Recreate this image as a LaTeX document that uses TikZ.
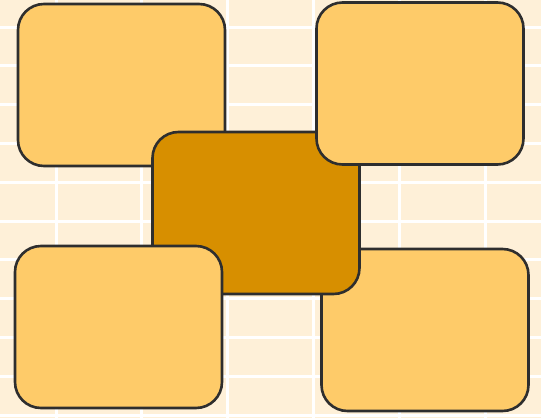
\documentclass[tikz,border=0pt]{standalone}
\usepackage{tikz}
\usetikzlibrary{positioning}

\definecolor{paper}{HTML}{FEF0D8}
\definecolor{tilelight}{HTML}{FECB69}
\definecolor{tiledark}{HTML}{D78F00}
\definecolor{edge}{HTML}{2E2E2E}

\tikzset{
  tile/.style={draw=edge, line width=2.6pt, rounded corners=26pt,
    minimum width=207pt, minimum height=162pt, inner sep=0pt, outer sep=0pt},
  lighttile/.style={tile, fill=tilelight},
  darktile/.style={tile, fill=tiledark},
  gridline/.style={white, line width=3pt}
}

\begin{document}
\begin{tikzpicture}[x=1pt, y=-1pt]
    \useasboundingbox (0,0) rectangle (541,418);
    % Background sheet with white grid
    \fill[paper] (0,0) rectangle (541,418);
    \foreach \x in {0,...,5} {
        \draw[gridline] (56+85.8*\x, 0) -- (56+85.8*\x, 418);
    }
    \foreach \y in {0,...,10} {
        \draw[gridline] (0, 27+38.8*\y) -- (541, 27+38.8*\y);
    }

    % Tiles, back to front
    \node[lighttile] (topleft) at (121.5, 85) {};
    \node[lighttile] (bottomright) at (425, 330) {};
    \node[darktile] (middle) at (256, 213) {};
    \node[lighttile] (topright) at (420, 83.5) {};
    \node[lighttile] (bottomleft) at (118.5, 327) {};
\end{tikzpicture}
\end{document}
